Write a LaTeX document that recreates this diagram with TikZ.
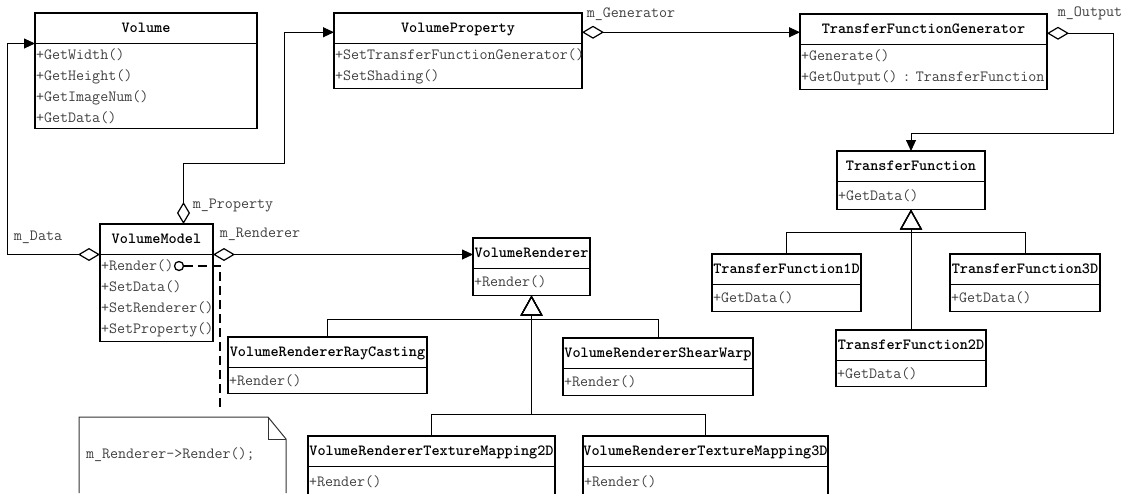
\documentclass[tikz,border=0pt]{standalone}
\usepackage{tikz}
\usetikzlibrary{arrows.meta,positioning}

\begin{document}
\begin{tikzpicture}[x=1pt,y=-1pt,line join=miter,
                    font=\fontsize{15.6}{21}\selectfont\ttfamily]
  \tikzstyle{cname}=[draw,line width=1.3pt,anchor=north west,inner sep=0pt,outer sep=0pt,
                     minimum height=30.5pt,text height=10.5pt,text depth=3pt,
                     font=\fontsize{15.5}{21}\selectfont\ttfamily\bfseries]
  \tikzset{cbody/.style={draw,line width=1.3pt,inner xsep=1pt,inner ysep=0pt,outer sep=0pt,
                         align=left,text=black!75,minimum height=#1}}
  \tikzstyle{lbl}=[inner sep=0pt,text=black!75]
  \tikzstyle{agg}=[line width=0.9pt,{Diamond[open,length=22pt,width=13pt,line width=1.2pt]}-{Triangle[length=11pt,width=10pt]}]
  \tikzstyle{gen}=[line width=0.9pt,-{Triangle[open,length=20pt,width=22pt,line width=1.2pt]}]
  \tikzstyle{notelink}=[line width=2.6pt,dash pattern=on 9pt off 5pt]

  \useasboundingbox (0,0) rectangle (1134,493);

  \node[cname,minimum width=222pt] (vol) at (35,13) {Volume};
  \node[cbody=85pt,text width=220pt] (vol-m) [below=0pt of vol]
       {+GetWidth()\\+GetHeight()\\+GetImageNum()\\+GetData()};

  \node[cname,minimum width=248pt] (vprop) at (334,13) {VolumeProperty};
  \node[cbody=45pt,text width=246pt] (vprop-m) [below=0pt of vprop]
       {+SetTransferFunctionGenerator()\\+SetShading()};

  \node[cname,minimum width=247pt] (tfgen) at (800,14) {TransferFunctionGenerator};
  \node[cbody=45pt,text width=245pt] (tfgen-m) [below=0pt of tfgen]
       {+Generate()\\+GetOutput()~:~TransferFunction};

  \node[cname,minimum width=148pt] (tf) at (837,151) {TransferFunction};
  \node[cbody=28pt,text width=146pt] (tf-m) [below=0pt of tf] {+GetData()};

  \node[cname,minimum width=149pt] (tf1) at (712,254) {TransferFunction1D};
  \node[cbody=27pt,text width=147pt] (tf1-m) [below=0pt of tf1] {+GetData()};

  \node[cname,minimum width=150pt] (tf3) at (950,254) {TransferFunction3D};
  \node[cbody=27pt,text width=148pt] (tf3-m) [below=0pt of tf3] {+GetData()};

  \node[cname,minimum width=150pt] (tf2) at (836,330) {TransferFunction2D};
  \node[cbody=26pt,text width=148pt] (tf2-m) [below=0pt of tf2] {+GetData()};

  \node[cname,minimum width=113pt] (vmodel) at (100,224) {VolumeModel};
  \node[cbody=87pt,text width=111pt] (vmodel-m) [below=0pt of vmodel]
       {+Render()\\+SetData()\\+SetRenderer()\\+SetProperty()};

  \node[cname,minimum width=117pt] (vrend) at (473,238) {VolumeRenderer};
  \node[cbody=27pt,text width=115pt] (vrend-m) [below=0pt of vrend] {+Render()};

  \node[cname,minimum width=199pt] (vrray) at (228,337) {VolumeRendererRayCasting};
  \node[cbody=26pt,text width=197pt] (vrray-m) [below=0pt of vrray] {+Render()};

  \node[cname,minimum width=190pt] (vrshear) at (563,338) {VolumeRendererShearWarp};
  \node[cbody=27pt,text width=188pt] (vrshear-m) [below=0pt of vrshear] {+Render()};

  \node[cname,minimum width=247pt] (vrtm2) at (308,436) {VolumeRendererTextureMapping2D};
  \node[cbody=30pt,text width=245pt] (vrtm2-m) [below=0pt of vrtm2] {+Render()};

  \node[cname,minimum width=245pt] (vrtm3) at (583,436) {VolumeRendererTextureMapping3D};
  \node[cbody=30pt,text width=243pt] (vrtm3-m) [below=0pt of vrtm3] {+Render()};

  % note
  \node[anchor=north west,inner xsep=7pt,inner ysep=0pt,outer sep=0pt,text width=193pt,
        minimum height=76pt,align=left,text=black!75] (note) at (79,417) {m\_Renderer->Render();};
  \draw[line width=1pt,black!80] (note.south west) |- ([xshift=-18pt]note.north east)
        -- ([yshift=-22pt]note.north east) -- (note.south east);
  \draw[line width=1pt,black!80] ([xshift=-18pt]note.north east) |- ([yshift=-22pt]note.north east);
  \node[circle,draw,line width=1.3pt,inner sep=0pt,minimum size=9pt] (dot) at (179,266) {};
  \draw[notelink] (dot.east) -| ([xshift=141pt,yshift=9pt]note.north west);

  % associations
  \draw[agg] (vmodel.south west) -- ++(-93,0) |- (vol.south west);
  \draw[agg] ([xshift=27pt]vmodel.north) -- ++(0,-61) -- ++(101,0) |- ([yshift=-4pt]vprop.west);
  \draw[agg] ([yshift=-4pt]vprop.east) -- ([yshift=-4pt]vprop.east -| tfgen.west);
  \draw[agg] ([yshift=-4pt]tfgen.east) -- ++(66,0) |- ([yshift=18pt]tf.north) -- (tf.north);
  \draw[agg] (vmodel.south east) -- (vmodel.south east -| vrend.west);

  \node[lbl] (l-data) at (38,237) {m\_Data};
  \node[lbl] (l-prop) at (233,206) {m\_Property};
  \node[lbl] (l-gen) at (631,14) {m\_Generator};
  \node[lbl] (l-out) at (1090,13) {m\_Output};
  \node[lbl] (l-rend) at (260,234) {m\_Renderer};

  % generalizations
  \draw[gen] (vrray.north) -- ++(0,-18) -| (vrend-m.south);
  \draw[gen] (vrshear.north) -- ++(0,-19) -| (vrend-m.south);
  \draw[gen] (vrtm2.north) -- ++(0,-22) -| (vrend-m.south);
  \draw[gen] (vrtm3.north) -- ++(0,-22) -| (vrend-m.south);
  \draw[gen] (tf1.north) -- ++(0,-22) -| (tf-m.south);
  \draw[gen] (tf3.north) -- ++(0,-22) -| (tf-m.south);
  \draw[gen] (tf2.north) -- (tf-m.south);
\end{tikzpicture}
\end{document}
